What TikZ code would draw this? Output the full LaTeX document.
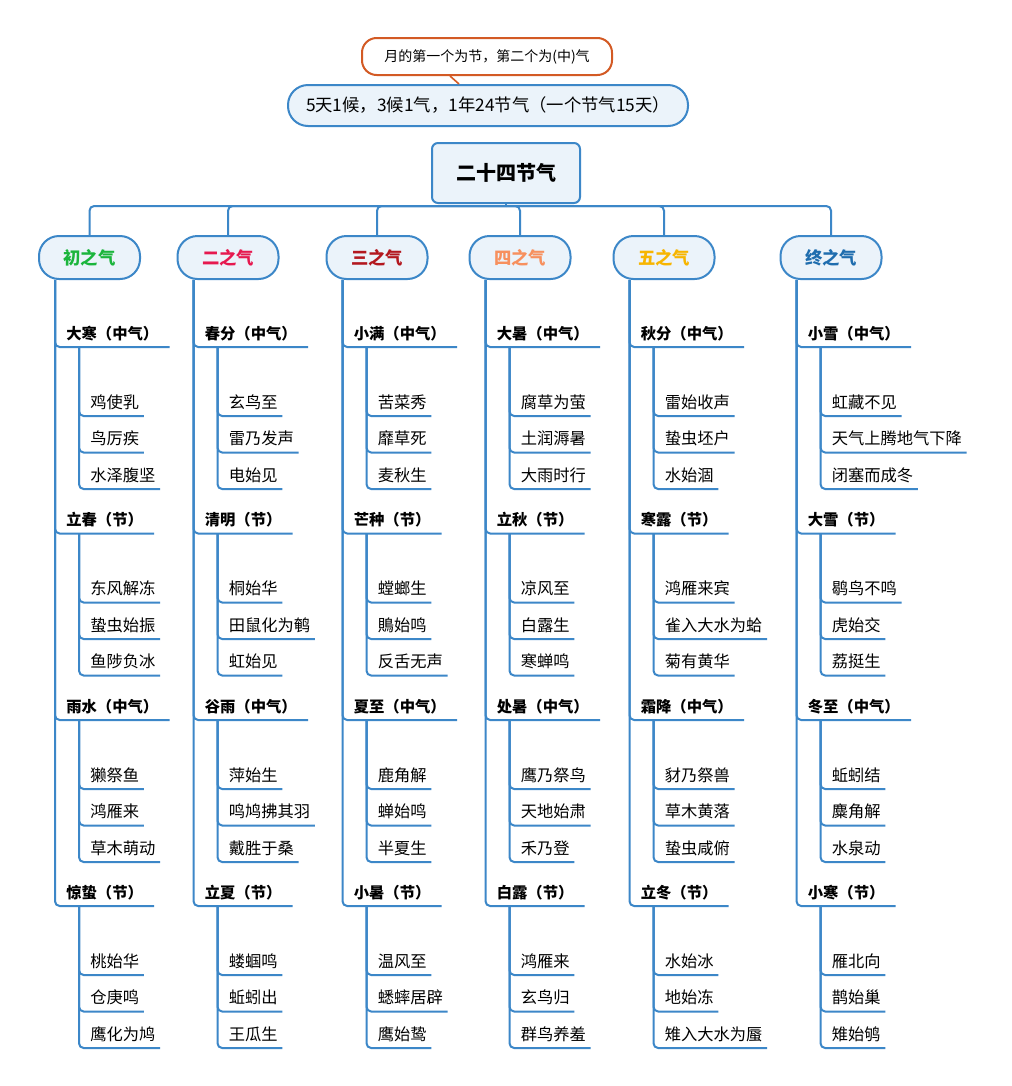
\documentclass[tikz,border=0pt]{standalone}
\usepackage{fontspec}
\setmainfont{Noto Sans CJK SC}
\usetikzlibrary{calc}
\definecolor{lineblue}{HTML}{3C87C8}
\definecolor{boxfill}{HTML}{EBF3FA}
\definecolor{calloutc}{HTML}{D35A24}
\definecolor{cgreen}{HTML}{1BB53C}
\definecolor{ccrimson}{HTML}{E6194F}
\definecolor{cdarkred}{HTML}{B3181F}
\definecolor{csalmon}{HTML}{F7905E}
\definecolor{cgold}{HTML}{F7B500}
\definecolor{cblue}{HTML}{1F6DAE}
\newcommand\grp[7]{%
  \node[lvtwo] (#1#2) at ($(#1.south west)+(17,#3)$) {#4};
  \draw[conn] ($(#1.south west)+(17,0)$) |- (#1#2.south east);
  \node[lvthree] (#1#2a) at ($(#1#2.south west)+(30.5,69)$) {#5};
  \node[lvthree] (#1#2b) at ($(#1#2.south west)+(30.5,105.5)$) {#6};
  \node[lvthree] (#1#2c) at ($(#1#2.south west)+(30.5,142)$) {#7};
  \foreach \s in {a,b,c} \draw[conn] ($(#1#2.south west)+(24,0)$) |- (#1#2\s.south east);
}
\begin{document}
\begin{tikzpicture}[x=0.75pt,y=-0.75pt,
  conn/.style={draw=lineblue,line width=1.5pt,rounded corners=3.5pt},
  lvtwo/.style={anchor=south west,inner xsep=8.25pt,inner ysep=0pt,text depth=5.6pt,text height=10pt,font=\fontsize{11.5pt}{13pt}\selectfont\bfseries},
  lvthree/.style={anchor=south west,inner xsep=3.4pt,inner ysep=0pt,text depth=5.6pt,text height=10pt,font=\fontsize{12.2pt}{14pt}\selectfont},
  catbox/.style={draw=lineblue,fill=boxfill,line width=1.5pt,rounded corners=15pt,minimum width=75.75pt,minimum height=32.25pt,inner sep=0pt,font=\fontsize{13pt}{15pt}\selectfont\bfseries},
  rootbox/.style={draw=lineblue,fill=boxfill,line width=1.5pt,rounded corners=4.5pt,minimum width=111pt,minimum height=45pt,inner sep=0pt,font=\fontsize{15pt}{17pt}\selectfont\bfseries},
  infobox/.style={draw=lineblue,fill=boxfill,line width=1.5pt,rounded corners=15pt,minimum width=300pt,minimum height=30.75pt,inner sep=0pt,font=\fontsize{13pt}{15pt}\selectfont},
  calloutbox/.style={draw=calloutc,fill=white,line width=1.5pt,rounded corners=11pt,minimum width=187.5pt,minimum height=27.75pt,inner sep=0pt,font=\fontsize{10.5pt}{12pt}\selectfont}
]
\useasboundingbox[fill=white] (0,0) rectangle (1011,1086);

% top notes
\node[infobox] (info) at (488,105.5) {5天1候，3候1气，1年24节气（一个节气15天）};
\node[calloutbox] (callout) at (487,56.5) {月的第一个为节，第二个为(中)气};
\draw[calloutc,line width=1.2pt] ($(callout.south)+(-37,0)$) -- ($(info.north)+(-29,0)$);

% root
\node[rootbox] (root) at (506,173) {二十四节气};
\coordinate (bus) at (0,206);

% categories
\node[catbox,text=cgreen] (c1) at (89.5,257.5) {初之气};
\node[catbox,text=ccrimson] (c2) at (228,257.5) {二之气};
\node[catbox,text=cdarkred] (c3) at (377,257.5) {三之气};
\node[catbox,text=csalmon] (c4) at (520,257.5) {四之气};
\node[catbox,text=cgold] (c5) at (664,257.5) {五之气};
\node[catbox,text=cblue] (c6) at (831,257.5) {终之气};

\draw[conn,rounded corners=0pt] (root.south) -- (root.south |- bus);
\foreach \c in {c1,c2,c3,c4,c5,c6}
  \draw[conn] (root.south |- bus) -| (\c.north);

% column 1
\grp{c1}{g1}{67}{大寒（中气）}{鸡使乳}{鸟厉疾}{水泽腹坚}
\grp{c1}{g2}{253.5}{立春（节）}{东风解冻}{蛰虫始振}{鱼陟负冰}
\grp{c1}{g3}{440}{雨水（中气）}{獭祭鱼}{鸿雁来}{草木萌动}
\grp{c1}{g4}{626}{惊蛰（节）}{桃始华}{仓庚鸣}{鹰化为鸠}
% column 2
\grp{c2}{g1}{67}{春分（中气）}{玄鸟至}{雷乃发声}{电始见}
\grp{c2}{g2}{253.5}{清明（节）}{桐始华}{田鼠化为鹌}{虹始见}
\grp{c2}{g3}{440}{谷雨（中气）}{萍始生}{鸣鸠拂其羽}{戴胜于桑}
\grp{c2}{g4}{626}{立夏（节）}{蝼蝈鸣}{蚯蚓出}{王瓜生}
% column 3
\grp{c3}{g1}{67}{小满（中气）}{苦菜秀}{靡草死}{麦秋生}
\grp{c3}{g2}{253.5}{芒种（节）}{螳螂生}{鵙始鸣}{反舌无声}
\grp{c3}{g3}{440}{夏至（中气）}{鹿角解}{蝉始鸣}{半夏生}
\grp{c3}{g4}{626}{小暑（节）}{温风至}{蟋蟀居辟}{鹰始鸷}
% column 4
\grp{c4}{g1}{67}{大暑（中气）}{腐草为萤}{土润溽暑}{大雨时行}
\grp{c4}{g2}{253.5}{立秋（节）}{凉风至}{白露生}{寒蝉鸣}
\grp{c4}{g3}{440}{处暑（中气）}{鹰乃祭鸟}{天地始肃}{禾乃登}
\grp{c4}{g4}{626}{白露（节）}{鸿雁来}{玄鸟归}{群鸟养羞}
% column 5
\grp{c5}{g1}{67}{秋分（中气）}{雷始收声}{蛰虫坯户}{水始涸}
\grp{c5}{g2}{253.5}{寒露（节）}{鸿雁来宾}{雀入大水为蛤}{菊有黄华}
\grp{c5}{g3}{440}{霜降（中气）}{豺乃祭兽}{草木黄落}{蛰虫咸俯}
\grp{c5}{g4}{626}{立冬（节）}{水始冰}{地始冻}{雉入大水为蜃}
% column 6
\grp{c6}{g1}{67}{小雪（中气）}{虹藏不见}{天气上腾地气下降}{闭塞而成冬}
\grp{c6}{g2}{253.5}{大雪（节）}{鹖鸟不鸣}{虎始交}{荔挺生}
\grp{c6}{g3}{440}{冬至（中气）}{蚯蚓结}{麋角解}{水泉动}
\grp{c6}{g4}{626}{小寒（节）}{雁北向}{鹊始巢}{雉始鸲}
\end{tikzpicture}
\end{document}
